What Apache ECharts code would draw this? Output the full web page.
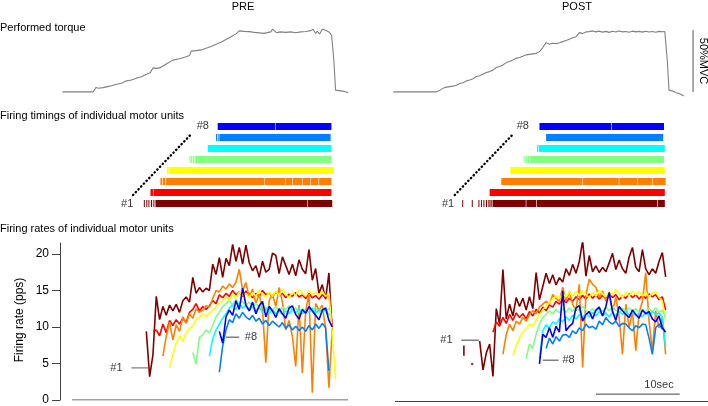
<!DOCTYPE html>
<html><head><meta charset="utf-8">
<script src="https://cdn.jsdelivr.net/npm/echarts@6/dist/echarts.min.js"></script>
<style>html,body{margin:0;padding:0;background:#fff}#c{width:708px;height:406px}</style>
</head><body><div id="c"></div>
<script>
// ---------- data ----------
const unitNames = ['#1','#2','#3','#4','#5','#6','#7','#8'];
const unitColors = ['#800000','#ff0000','#ff8000','#ffff00','#80ff80','#00ffff','#0080ff','#0000ff'];
const sampleStep = 0.4; // s between firing-rate samples

// torque [time s, %MVC]
const preTorque = [[0.28,0],[4.0,0],[4.32,3.5],[4.64,2.9],[5.2,3.4],[6.0,4.6],[6.8,6.2],[7.4,7.0],[8.0,8.9],[8.6,9.6],[9.2,11.1],[9.8,12.2],[10.4,14.3],[10.88,15.4],[11.2,19.4],[11.6,19.0],[12.0,19.4],[12.8,22.6],[13.6,25.7],[14.4,26.8],[15.2,28.4],[15.6,29.4],[15.8,33.0],[16.4,33.4],[17.0,34.0],[17.6,35.4],[18.2,36.8],[18.8,38.6],[19.4,40.2],[20.0,42.4],[20.6,44.6],[21.2,47.0],[21.6,49.4],[22.2,49.0],[22.8,48.8],[23.4,48.2],[24.0,47.8],[24.6,47.4],[25.0,48.0],[25.4,48.6],[25.6,50.8],[25.84,50.2],[26.08,48.0],[26.6,48.6],[27.2,48.2],[27.8,48.6],[28.4,47.9],[29.0,48.6],[29.6,48.9],[30.2,49.6],[30.48,50.8],[30.8,47.3],[31.0,49.2],[31.28,46.8],[31.6,50.8],[32.0,50.0],[32.4,48.6],[32.72,46.0],[33.0,25.0],[33.2,1.4],[33.6,1.0],[34.2,0.4],[34.72,-0.8]];
const postTorque = [[0.4,0],[5.6,0],[5.9,0.8],[6.2,2.2],[6.6,3.6],[7.0,4.0],[7.6,4.6],[8.0,5.4],[8.4,6.7],[8.8,7.4],[9.2,8.9],[9.6,9.6],[10.0,10.6],[10.4,12.4],[10.8,13.0],[11.2,14.2],[11.6,15.7],[12.0,16.4],[12.4,17.6],[12.8,19.7],[13.2,20.6],[13.6,21.8],[14.0,23.7],[14.4,24.6],[14.8,25.8],[15.2,27.3],[15.6,27.8],[16.0,28.8],[16.4,30.0],[16.8,30.4],[17.2,30.8],[17.6,31.2],[18.0,32.6],[18.4,35.9],[18.8,39.9],[19.2,38.6],[19.6,39.4],[20.0,39.1],[20.4,39.8],[20.8,40.7],[21.2,41.6],[21.6,42.7],[22.0,43.8],[22.4,44.6],[22.8,48.0],[23.2,47.2],[23.6,48.6],[24.0,48.8],[24.4,49.4],[24.8,48.6],[25.2,49.2],[25.6,48.4],[26.0,49.0],[26.4,48.2],[26.8,49.1],[27.2,48.5],[27.6,49.3],[28.0,48.6],[28.4,48.9],[28.8,48.3],[29.2,49.2],[29.6,48.6],[30.0,49.0],[30.4,48.4],[30.8,49.1],[31.2,48.5],[31.6,48.9],[32.0,48.3],[32.4,49.0],[32.8,48.7],[33.1,48.8],[33.4,25.0],[33.6,1.4],[34.0,0.8],[34.4,-0.5],[34.8,-1.4],[35.4,-3.4]];

// firing timings: [start s, end s] blocks per unit
const preTiming1 = [[10.1,10.2],[10.4,10.5],[10.65,10.75],[10.95,11.1],[11.25,11.35],[11.5,29.8],[29.86,32.8]];
const preTiming2 = [[10.9,11.2],[11.26,32.7]];
const preTiming3 = [[12.1,12.3],[12.38,12.7],[12.78,24.6],[24.66,27.15],[27.22,28.0],[28.07,29.15],[29.22,30.15],[30.22,31.15],[31.22,32.7]];
const preTiming4 = [[12.9,13.1],[13.17,33.0]];
const preTiming5 = [[15.6,15.7],[15.8,15.95],[16.05,16.2],[16.3,32.7]];
const preTiming6 = [[17.8,32.7]];
const preTiming7 = [[18.8,18.9],[19.0,19.1],[19.2,32.6]];
const preTiming8 = [[19.0,25.95],[26.01,32.7]];
const postTiming1 = [[8.7,8.8],[9.85,9.95],[10.65,10.75],[10.95,11.05],[11.25,11.35],[11.55,11.7],[11.85,12.0],[12.1,12.25],[12.35,16.35],[16.42,17.6],[17.67,32.2],[32.27,33.1]];
const postTiming2 = [[12.0,33.1]];
const postTiming3 = [[13.4,23.15],[23.22,27.55],[27.62,29.75],[29.82,31.55],[31.62,33.2]];
const postTiming4 = [[14.5,33.1]];
const postTiming5 = [[16.1,16.2],[16.35,16.5],[16.6,16.8],[16.9,33.0]];
const postTiming6 = [[17.7,17.8],[17.9,33.1]];
const postTiming7 = [[18.8,32.9]];
const postTiming8 = [[18.0,26.65],[26.72,33.0]];

// firing rates (pps): first-sample time per unit, then values every sampleStep
const preStart = [10.4, 11.2, 12.4, 13.2, 16.0, 18.0, 19.2, 19.2];
const preRate1 = [9.4,3.2,6.2,14.2,11.0,12.8,11.6,13.0,12.2,13.1,12.0,13.6,14.1,13.4,16.8,14.6,15.4,14.8,15.3,15.0,18.6,17.2,19.5,16.8,19.4,18.4,21.3,19.0,20.9,18.6,21.2,18.8,17.7,18.4,16.8,19.0,17.5,17.9,20.1,19.8,17.3,19.6,18.4,17.2,18.6,17.0,19.2,17.9,17.3,20.6,16.4,18.0,14.6,15.8,13.8,17.4,9.2];
const preRate2 = [9.4,9.6,8.8,10.4,9.2,10.9,10.2,11.0,10.4,11.2,10.6,12.0,12.4,13.2,12.2,12.8,12.4,12.9,13.6,13.2,14.4,14.0,14.6,14.2,15.0,14.4,14.8,14.2,14.9,14.5,14.0,14.6,14.2,15.0,14.4,14.7,14.1,14.8,14.3,14.6,14.0,14.5,14.2,14.7,14.1,14.4,13.9,14.6,14.0,14.3,13.8,14.4,14.0,14.6,10.0];
const preRate3 = [6.0,8.7,10.7,8.2,10.3,9.4,11.4,10.5,11.8,11.2,12.5,12.0,12.3,12.9,12.7,13.9,15.0,14.8,15.6,15.2,15.9,15.4,16.1,17.9,15.0,16.1,14.0,15.2,13.2,14.5,12.3,5.1,13.6,14.5,12.8,15.4,13.4,9.6,10.9,8.7,4.6,13.0,3.7,12.2,14.5,1.0,13.2,12.3,13.0,9.8,1.7,9.6];
const preRate4 = [4.4,6.2,7.8,8.8,8.0,9.2,9.8,10.1,11.0,11.3,11.8,11.4,11.9,12.3,12.8,13.2,13.6,14.1,13.8,14.4,14.0,14.8,14.3,14.6,14.0,14.7,14.2,15.0,14.4,14.1,14.8,14.2,14.9,14.3,15.2,14.5,14.0,14.8,14.3,15.1,14.6,14.2,15.0,14.4,14.8,14.3,14.9,14.2,14.6,9.2,2.8];
const preRate5 = [6.5,4.9,8.6,8.9,9.6,9.2,10.2,11.4,12.0,12.8,13.2,13.6,13.0,13.8,13.2,13.5,12.9,13.4,12.8,13.3,12.7,13.1,12.5,12.9,12.3,12.8,12.2,12.7,12.4,12.9,12.3,12.6,12.0,12.5,12.1,12.7,12.2,12.6,12.0,12.4,12.1,12.5];
const preRate6 = [6.0,8.4,9.6,10.4,11.2,11.8,12.6,13.0,12.4,13.2,12.6,12.9,12.3,12.8,12.2,12.7,12.0,12.5,11.9,12.4,11.8,12.3,11.7,12.2,11.8,12.4,11.9,12.5,11.8,12.3,12.0,12.6,11.9,12.4,12.0,12.5,11.6];
const preRate7 = [3.8,7.4,9.6,11.0,10.6,11.8,11.2,12.0,11.4,11.0,11.6,10.8,11.2,10.4,10.9,10.2,10.8,10.4,10.0,10.6,9.8,10.3,9.6,10.1,9.5,10.0,9.4,10.2,9.6,10.4,9.8,10.5,9.9,4.0];
const preRate8 = [9.4,7.8,11.4,12.3,11.6,13.6,12.4,15.3,13.0,12.2,13.4,11.8,12.9,13.5,11.4,12.8,12.2,11.3,12.5,11.8,11.2,12.6,12.9,11.7,11.1,12.4,11.9,12.8,12.2,11.6,11.0,12.3,12.6,10.9,10.0];

const postStart = [10.8, 12.4, 13.6, 14.8, 16.4, 18.0, 18.8, 18.0];
const postRate1 = [8.2,4.3,6.6,7.8,3.4,12.6,10.5,17.9,11.2,13.2,11.6,14.1,12.9,14.0,12.4,14.2,12.6,17.5,13.8,15.6,17.4,16.0,17.2,15.8,16.8,16.2,18.0,17.1,18.6,17.4,19.0,21.8,17.0,19.8,17.6,18.4,17.5,18.2,17.6,18.8,20.1,17.9,19.2,18.0,17.4,19.6,20.9,18.2,17.6,20.6,18.0,17.2,18.0,17.4,19.0,20.2,16.9];
const postRate2 = [9.4,10.8,10.2,11.4,10.6,11.8,11.0,12.0,11.4,11.9,11.2,12.2,11.6,12.5,12.0,12.8,12.3,13.1,12.8,13.6,13.2,13.9,13.4,14.0,13.6,14.2,13.8,14.4,13.9,14.6,14.0,14.5,13.9,14.4,14.0,14.7,14.1,14.5,13.8,14.3,14.0,14.6,14.1,14.5,13.9,14.4,14.0,14.6,14.2,14.5,13.8,14.2,12.4];
const postRate3 = [6.4,9.1,10.5,9.6,10.9,10.5,11.4,10.9,11.8,12.3,11.9,12.8,13.2,13.6,13.2,14.5,14.0,13.6,15.5,13.6,14.9,13.2,12.3,15.9,4.6,14.5,16.6,15.9,15.5,14.1,15.0,13.6,14.5,12.3,14.1,11.4,6.4,13.2,10.0,12.3,6.9,12.0,13.6,17.5,10.9,6.9,12.3,10.0,11.4,6.4];
const postRate4 = [6.2,7.6,8.6,9.4,9.9,10.5,10.2,11.0,11.8,12.4,13.0,13.4,13.9,14.3,14.0,14.6,14.2,14.8,14.3,14.9,14.4,15.0,14.5,14.1,14.8,14.3,15.1,14.6,14.2,14.9,14.4,15.2,14.6,14.1,14.8,14.3,15.0,14.5,14.9,14.3,14.8,14.2,14.7,14.9,14.1,13.6,10.9];
const postRate5 = [5.8,7.8,7.2,9.1,10.5,11.4,11.8,12.3,11.9,12.5,12.0,12.6,12.1,12.7,12.2,12.8,12.3,12.9,12.4,12.0,12.6,12.1,12.7,12.2,12.8,12.3,12.9,12.4,12.0,12.6,12.1,12.7,12.2,12.6,12.0,12.5,12.1,12.6,12.2,12.7,12.1,12.4,11.4];
const postRate6 = [5.8,9.6,10.4,10.0,10.8,10.5,11.2,10.8,11.5,11.0,11.7,11.2,11.8,11.4,12.0,11.5,12.1,11.6,12.2,11.7,12.0,11.5,12.1,11.6,12.2,11.8,12.3,11.7,12.1,11.6,12.0,11.5,12.1,11.6,12.2,11.8,12.0,11.4,7.4];
const postRate7 = [7.2,8.6,7.8,8.8,8.2,9.0,9.1,8.7,9.6,9.2,10.0,9.6,10.5,10.0,10.2,9.8,10.9,10.4,11.4,10.8,10.5,10.9,10.2,10.6,10.5,10.0,9.6,10.3,10.0,10.5,10.4,8.6,6.4,10.0,10.5,9.8];
const postRate8 = [5.1,9.1,8.7,10.0,8.7,10.2,9.4,15.0,9.6,10.2,10.6,12.7,13.0,10.9,11.8,12.2,11.2,12.4,12.8,11.6,12.9,14.8,12.2,11.0,12.9,12.3,11.8,11.4,12.4,11.8,11.3,12.4,11.9,12.2,11.2,10.8,11.6,10.0,9.4];
const postEarlyUnit1 = [[8.9,7.6],[8.9,6.2]];
const postEarlyDot = [[9.9,5.1]];

const rateTicks = [0, 5, 10, 15, 20];

// ---------- build ----------
const FONT = 'Liberation Sans, Arial, sans-serif';
const preRates = [preRate1,preRate2,preRate3,preRate4,preRate5,preRate6,preRate7,preRate8];
const postRates = [postRate1,postRate2,postRate3,postRate4,postRate5,postRate6,postRate7,postRate8];
const preTimings = [preTiming1,preTiming2,preTiming3,preTiming4,preTiming5,preTiming6,preTiming7,preTiming8];
const postTimings = [postTiming1,postTiming2,postTiming3,postTiming4,postTiming5,postTiming6,postTiming7,postTiming8];

function ratePairs(start, vals) { return vals.map((v, i) => [+(start + i * sampleStep).toFixed(2), v]); }
function timingData(list) {
  const out = [];
  list.forEach((segs, u) => segs.forEach(s => out.push([u + 1, s[0], s[1]])));
  return out;
}
function rasterRender(params, api) {
  const u = api.value(0);
  const p0 = api.coord([api.value(1), u]);
  const p1 = api.coord([api.value(2), u]);
  return { type: 'rect', shape: { x: p0[0], y: p0[1] - 3.5, width: Math.max(p1[0] - p0[0], 1), height: 7 },
           style: { fill: unitColors[u - 1] } };
}
function textSeries(xi, yi, items, size) {
  return { type: 'scatter', xAxisIndex: xi, yAxisIndex: yi, symbolSize: 1, itemStyle: { color: 'rgba(0,0,0,0)' },
    data: items, silent: true, z: 5,
    label: { show: true, position: 'inside', formatter: p => p.name, color: '#000', fontSize: size || 11, fontFamily: FONT } };
}
function plainLine(xi, yi, data, color, width, extra) {
  return Object.assign({ type: 'line', xAxisIndex: xi, yAxisIndex: yi, data: data, showSymbol: false, symbol: 'none',
    lineStyle: { color: color, width: width }, silent: true }, extra || {});
}

const PREW = 290.5, POSTW = 318;
const grids = [
  { left: 60, top: 24, width: PREW, height: 74 },
  { left: 390, top: 24, width: POSTW, height: 74 },
  { left: 60, top: 121, width: PREW, height: 88 },
  { left: 390, top: 121, width: POSTW, height: 88 },
  { left: 60, top: 243, width: PREW, height: 158.5 },
  { left: 390, top: 243, width: POSTW, height: 158.5 }
];
const xAxes = grids.map((g, i) => ({ type: 'value', gridIndex: i, min: 0, max: (i % 2 === 0) ? 35 : 38.3, show: false }));
const yAxes = [
  { type: 'value', gridIndex: 0, min: -5, max: 55, show: false },
  { type: 'value', gridIndex: 1, min: -5, max: 55, show: false },
  { type: 'value', gridIndex: 2, min: 0.5, max: 8.5, show: false },
  { type: 'value', gridIndex: 3, min: 0.5, max: 8.5, show: false },
  { type: 'value', gridIndex: 4, min: 0, max: 21.5, interval: 5,
    axisLine: { show: true, lineStyle: { color: '#444', width: 1 } },
    axisTick: { show: true, length: 8, customValues: rateTicks, lineStyle: { color: '#444' } },
    axisLabel: { show: true, customValues: rateTicks, margin: 11, color: '#000', fontSize: 12, fontFamily: FONT },
    splitLine: { show: false } },
  { type: 'value', gridIndex: 5, min: 0, max: 21.5, show: false }
];

const series = [];
// torque
series.push(plainLine(0, 0, preTorque, '#808080', 1.1));
series.push(plainLine(1, 1, postTorque, '#808080', 1.1));
series.push(plainLine(1, 1, [[36.5, -0.2], [36.5, 50]], '#555', 1));
// timings
series.push({ type: 'custom', xAxisIndex: 2, yAxisIndex: 2, renderItem: rasterRender, encode: { x: [1, 2], y: 0 }, data: timingData(preTimings), silent: true });
series.push({ type: 'custom', xAxisIndex: 3, yAxisIndex: 3, renderItem: rasterRender, encode: { x: [1, 2], y: 0 }, data: timingData(postTimings), silent: true });
const dotted = { lineStyle: { color: '#000', width: 2.4, type: [0.3, 3.6], cap: 'round' } };
series.push(plainLine(2, 2, [[8.8, 1.77], [15.9, 7.38]], '#000', 2.4, dotted));
series.push(plainLine(3, 3, [[7.8, 1.77], [14.8, 7.29]], '#000', 2.4, dotted));
series.push(textSeries(2, 2, [{ name: '#8', value: [17.2, 8.05] }, { name: '#1', value: [8.1, 1.0] }]));
series.push(textSeries(3, 3, [{ name: '#8', value: [16.0, 8.05] }, { name: '#1', value: [7.0, 1.0] }]));
// firing rates
preRates.forEach((vals, u) => series.push(plainLine(4, 4, ratePairs(preStart[u], vals), unitColors[u], 1.6, { name: 'PRE ' + unitNames[u] })));
postRates.forEach((vals, u) => series.push(plainLine(5, 5, ratePairs(postStart[u], vals), unitColors[u], 1.6, { name: 'POST ' + unitNames[u] })));
series.push(plainLine(5, 5, postEarlyUnit1, unitColors[0], 1.6));
series.push({ type: 'scatter', xAxisIndex: 5, yAxisIndex: 5, data: postEarlyDot, symbolSize: 2.5, itemStyle: { color: unitColors[0] }, silent: true });
// x axis lines
series.push(plainLine(4, 4, [[1.44, 0], [34.7, 0]], '#444', 1));
series.push(plainLine(5, 5, [[0.6, 0], [38.3, 0]], '#444', 1));
// leaders & labels
series.push(plainLine(4, 4, [[8.6, 4.4], [10.6, 4.4]], '#808080', 1.4));
series.push(plainLine(4, 4, [[20.0, 8.6], [21.6, 8.6]], '#808080', 1.4));
series.push(plainLine(5, 5, [[8.6, 8.3], [10.7, 8.3]], '#808080', 1.4));
series.push(plainLine(5, 5, [[18.4, 5.6], [20.3, 5.6]], '#808080', 1.4));
series.push(textSeries(4, 4, [{ name: '#1', value: [6.8, 4.4] }, { name: '#8', value: [23.0, 8.6] }]));
series.push(textSeries(5, 5, [{ name: '#1', value: [6.8, 8.3] }, { name: '#8', value: [21.5, 5.6] }]));
// 10 s scale bar
series.push(plainLine(5, 5, [[24.8, 1.0], [34.9, 1.0]], '#444', 1));
series.push(textSeries(5, 5, [{ name: '10sec', value: [32.4, 2.25] }]));

function txt(text, x, y, opts) {
  return Object.assign({ type: 'text', x: x, y: y, silent: true,
    style: Object.assign({ text: text, fill: '#000', font: '11px ' + FONT, textAlign: 'left', textVerticalAlign: 'middle', align: 'left', verticalAlign: 'middle' }, (opts && opts.style) || {}) },
    opts && opts.rotation !== undefined ? { rotation: opts.rotation } : {});
}
const graphics = [
  txt('PRE', 243, 7, { style: { textAlign: 'center', align: 'center' } }),
  txt('POST', 577, 7, { style: { textAlign: 'center', align: 'center' } }),
  txt('Performed torque', 0, 28),
  txt('Firing timings of individual motor units', 0, 116),
  txt('Firing rates of individual motor units', 0, 229),
  txt('Firing rate (pps)', 20, 320, { rotation: Math.PI / 2, style: { textAlign: 'center', align: 'center', font: '12px ' + FONT } }),
  txt('50%MVC', 703, 61, { rotation: -Math.PI / 2, style: { textAlign: 'center', align: 'center', font: '11px ' + FONT } })
];

const chart = echarts.init(document.getElementById('c'), null, { renderer: 'canvas' });
chart.setOption({
  animation: false,
  backgroundColor: '#fff',
  grid: grids,
  xAxis: xAxes,
  yAxis: yAxes,
  series: series,
  graphic: graphics
});
</script></body></html>
